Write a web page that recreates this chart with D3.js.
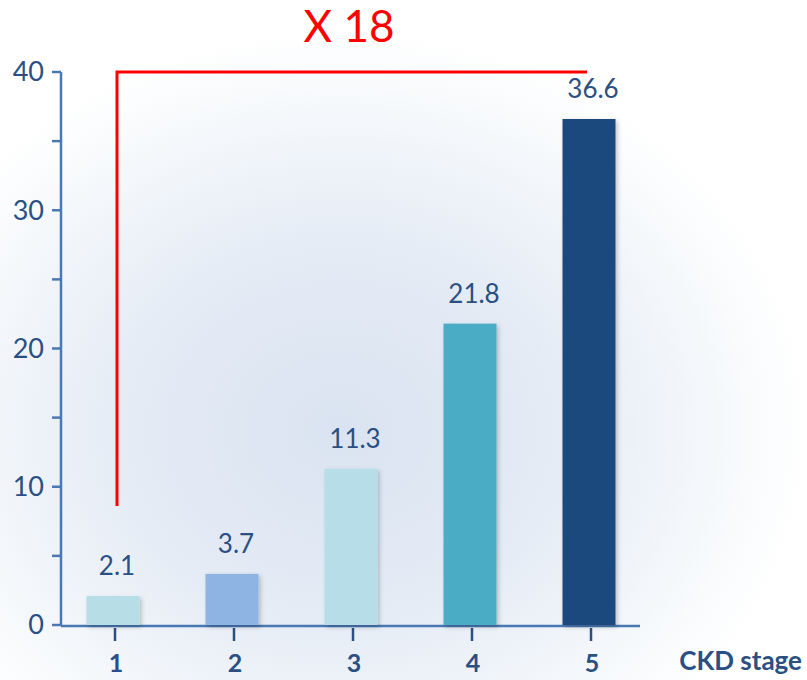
<!DOCTYPE html>
<html><head><meta charset="utf-8">
<script src="https://cdn.jsdelivr.net/npm/d3@7"></script>
<style>html,body{margin:0;padding:0;background:#fff;}svg{display:block;}</style>
</head><body>
<svg id="c" width="807" height="680"></svg>
<script>
const categories = ["1","2","3","4","5"];
const values = [2.1, 3.7, 11.3, 21.8, 36.6];
const barColors = ["#b7dde6","#8eb4e3","#b7dde8","#4bacc6","#1f497d"];
const yTicks = [0,5,10,15,20,25,30,35,40];
const yLabels = [0,10,20,30,40];
const ratioText = "X 18";
const xTitle = "CKD stage";

const svg = d3.select("#c");
const font = "Lato, 'Open Sans', sans-serif";
const axisColor = "#4a78b4";
const textColor = "#2a4f82";

// background glow
const defs = svg.append("defs");
const rg = defs.append("radialGradient").attr("id","bg").attr("gradientUnits","userSpaceOnUse")
  .attr("cx",0).attr("cy",0).attr("r",1)
  .attr("gradientTransform","translate(340,430) scale(470,400)");
rg.append("stop").attr("offset","0").attr("stop-color","#dae3f1");
rg.append("stop").attr("offset","0.45").attr("stop-color","#e4ebf5");
rg.append("stop").attr("offset","0.8").attr("stop-color","#f5f8fb");
rg.append("stop").attr("offset","1").attr("stop-color","#ffffff");
const sh = defs.append("filter").attr("id","sh").attr("x","-20%").attr("y","-20%").attr("width","150%").attr("height","150%");
sh.append("feDropShadow").attr("dx",2).attr("dy",2).attr("stdDeviation",2).attr("flood-color","#000").attr("flood-opacity",0.22);
svg.append("rect").attr("x",0).attr("y",0).attr("width",807).attr("height",680).attr("fill","url(#bg)");

const x0 = 61, x1 = 640;
const y = d3.scaleLinear().domain([0,40]).range([625,72]);
const x = d3.scalePoint().domain(categories).range([113,589]);
const barW = 53;

// y axis
svg.append("line").attr("x1",x0).attr("x2",x0).attr("y1",y(40)).attr("y2",y(0)+1)
  .attr("stroke",axisColor).attr("stroke-width",2.5);
svg.selectAll(".yt").data(yTicks).enter().append("line")
  .attr("x1",x0-9).attr("x2",x0).attr("y1",d=>y(d)).attr("y2",d=>y(d))
  .attr("stroke",axisColor).attr("stroke-width",2.5);
svg.selectAll(".yl").data(yLabels).enter().append("text")
  .attr("x",44).attr("y",d=>y(d)).attr("dy","0.35em").attr("text-anchor","end")
  .attr("font-family",font).attr("font-size",27).attr("fill",textColor).text(d=>d);

// x axis
svg.append("line").attr("x1",x0).attr("x2",x1).attr("y1",y(0)+1).attr("y2",y(0)+1)
  .attr("stroke",axisColor).attr("stroke-width",2.5);
svg.selectAll(".xt").data(categories).enter().append("line")
  .attr("x1",d=>x(d)+2).attr("x2",d=>x(d)+2).attr("y1",628).attr("y2",641)
  .attr("stroke",textColor).attr("stroke-width",2.5);
svg.selectAll(".xl").data(categories).enter().append("text")
  .attr("x",d=>x(d)+3).attr("y",672).attr("text-anchor","middle")
  .attr("font-family",font).attr("font-weight","bold").attr("font-size",25).attr("fill",textColor).text(d=>d);
svg.append("text").attr("x",802).attr("y",670).attr("text-anchor","end")
  .attr("font-family",font).attr("font-weight","bold").attr("font-size",26).attr("fill",textColor).text(xTitle);

// bars
svg.selectAll(".bar").data(values).enter().append("rect")
  .attr("x",(d,i)=>x(categories[i])-barW/2).attr("width",barW)
  .attr("y",d=>y(d)).attr("height",d=>y(0)-y(d))
  .attr("fill",(d,i)=>barColors[i]).attr("filter","url(#sh)");
svg.selectAll(".vl").data(values).enter().append("text")
  .attr("x",(d,i)=>x(categories[i])+4).attr("y",d=>y(d)-21).attr("text-anchor","middle")
  .attr("font-family",font).attr("font-size",26).attr("fill",textColor).text(d=>d.toFixed(1));

// red bracket
const rx = x(categories[0])+4, rEnd = x(categories[4]);
svg.append("path")
  .attr("d",`M${rx},${y(8.6)} L${rx},${y(40)} L${rEnd-2},${y(40)}`)
  .attr("fill","none").attr("stroke","#ff0000").attr("stroke-width",3);
svg.append("text").attr("x",349).attr("y",42).attr("text-anchor","middle")
  .attr("font-family",font).attr("font-size",44).attr("fill","#ff0000").text(ratioText);
</script>
</body></html>
